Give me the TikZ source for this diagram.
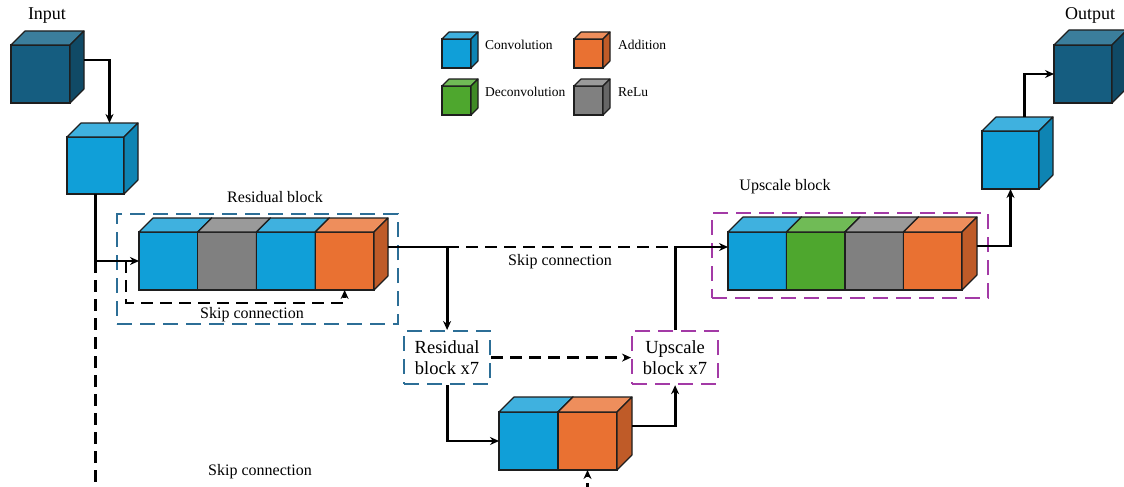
\documentclass[tikz,border=0pt]{standalone}
\usepackage{fontspec}
\setmainfont{Liberation Serif}
\usetikzlibrary{arrows.meta,calc}
\definecolor{convF}{HTML}{109FD8}
\definecolor{convT}{HTML}{3FB1DF}
\definecolor{convS}{HTML}{0E84B3}
\definecolor{inF}{HTML}{155D80}
\definecolor{inT}{HTML}{3B7E9C}
\definecolor{inS}{HTML}{104A66}
\definecolor{addF}{HTML}{E97132}
\definecolor{addT}{HTML}{EE8E5C}
\definecolor{addS}{HTML}{BF5B28}
\definecolor{reluF}{HTML}{808080}
\definecolor{reluT}{HTML}{9A9A9A}
\definecolor{reluS}{HTML}{666666}
\definecolor{decF}{HTML}{4EA72E}
\definecolor{decT}{HTML}{70BB56}
\definecolor{decS}{HTML}{3F8A25}
\definecolor{resC}{HTML}{2C6E96}
\definecolor{upC}{HTML}{A33AA6}
\definecolor{edgeC}{HTML}{1E1E1E}
\tikzset{
  cubeface/.style={draw=edgeC, line width=1.1pt, inner sep=0pt, outer sep=0pt, anchor=north west},
  cubeedge/.style={draw=edgeC, line width=1.1pt, line join=round},
  conn/.style={draw=black, line width=2.8pt},
  arr/.style={-{Stealth[length=9pt,width=8pt]}},
  dsh/.style={dash pattern=on 12pt off 7pt},
  lbl/.style={font=\fontsize{16pt}{19pt}\selectfont, inner sep=0pt},
  big/.style={font=\fontsize{18pt}{21pt}\selectfont, inner sep=0pt},
  leg/.style={font=\fontsize{13.5pt}{16pt}\selectfont, inner sep=0pt, anchor=west},
  rbox/.style={draw=resC, line width=2.2pt, dash pattern=on 15pt off 8pt, inner sep=0pt, anchor=north west},
  ubox/.style={draw=upC, line width=2.2pt, dash pattern=on 15pt off 8pt, inner sep=0pt, anchor=north west},
  blk/.style={font=\fontsize{18.5pt}{21pt}\selectfont, align=center}
}
\newcommand\mycube[7]{%
  \node[cubeface, fill=#7F, minimum width=#4pt, minimum height=#5pt] (#1) at (#2,#3) {};
  \filldraw[cubeedge, fill=#7T] (#1.north west) -- ++(#6,-#6) -- ++(#4,0) -- (#1.north east) -- cycle;
  \filldraw[cubeedge, fill=#7S] (#1.north east) -- ++(#6,-#6) -- ++(0,#5) -- (#1.south east) -- cycle;
}
\begin{document}
\begin{tikzpicture}[x=1pt, y=-1pt]
\useasboundingbox (0,0) rectangle (1124,487);
\clip (0,0) rectangle (1124,487);
\fill[white] (0,0) rectangle (1124,487);
\coordinate (bot) at (0,495);

% labels
\node[big] (tin) at (47,16) {Input};
\node[big] (tout) at (1090,15) {Output};
\node[lbl] (tres) at (275,197) {Residual block};
\node[lbl] (tup) at (785,187) {Upscale block};
\node[lbl] (sk1) at (560,262) {Skip connection};
\node[lbl] (sk2) at (252,315) {Skip connection};
\node[lbl] (sk3) at (260,472) {Skip connection};

% legend
\mycube{lconv}{442}{39}{29}{29}{7}{conv}
\mycube{ladd}{574}{39}{29}{29}{7}{add}
\mycube{ldec}{442}{86}{29}{29}{7}{dec}
\mycube{lrelu}{574}{86}{29}{29}{7}{relu}
\node[leg] (tconv) at (485,45) {Convolution};
\node[leg] (tadd) at (618,45) {Addition};
\node[leg] (tdec) at (485,92) {Deconvolution};
\node[leg] (trelu) at (618,92) {ReLu};

% dashed boxes
\node[rbox, minimum width=281pt, minimum height=110pt] (resbox) at (116,213) {};
\node[ubox, minimum width=276pt, minimum height=85pt] (upbox) at (711,212) {};
\node[rbox, blk, minimum width=86pt, minimum height=53pt] (rx7) at (403,330) {Residual\\block x7};
\node[ubox, blk, minimum width=86pt, minimum height=53pt] (ux7) at (631,330) {Upscale\\block x7};

% cubes
\mycube{in}{11}{45}{59}{58}{14}{in}
\mycube{c1}{67}{137}{57}{57}{14}{conv}
\mycube{r1}{139}{232}{58.75}{58}{14}{conv}
\mycube{r2}{197.75}{232}{58.75}{58}{14}{relu}
\mycube{r3}{256.5}{232}{58.75}{58}{14}{conv}
\mycube{r4}{315.25}{232}{58.75}{58}{14}{add}
\mycube{u1}{728}{232}{58.5}{58}{15}{conv}
\mycube{u2}{786.5}{232}{58.5}{58}{15}{dec}
\mycube{u3}{845}{232}{58.5}{58}{15}{relu}
\mycube{u4}{903.5}{232}{58.5}{58}{15}{add}
\mycube{b1}{499}{412}{59}{58}{15}{conv}
\mycube{b2}{558}{412}{59}{58}{15}{add}
\mycube{c2}{982}{131}{57}{58}{14}{conv}
\mycube{out}{1054}{45}{58}{58}{15}{in}

% connectors
\coordinate (inb) at ($(in.east)+(14,-14)$);
\coordinate (r4b) at ($(r4.east)+(14,-14)$);
\coordinate (b2b) at ($(b2.east)+(15,-15)$);
\coordinate (u4b) at ($(u4.east)+(15,-15)$);
\draw[conn,arr] (inb) -| ($(c1.north)+(14,-14)$);
\draw[conn,arr] (c1.south) |- (r1.west);
\draw[conn,dsh] (c1.south |- r1.west) -- (c1.south |- bot);
\draw[conn,dsh,arr] ($(r1.west)+(-13,0)$) |- ($(r4.south)+(0,13)$) -- (r4.south);
\draw[conn,arr] (r4b) -| (rx7.north);
\draw[conn,dsh] (rx7.north |- r4b) -- (ux7.north |- r4b);
\draw[conn,arr] (ux7.north) |- ($(u1.west)+(0,-14)$);
\draw[conn,arr] (rx7.south) |- (b1.west);
\draw[conn,arr] (b2b) -| (ux7.south);
\draw[conn,dsh,arr] (rx7.east) -- (ux7.west);
\draw[conn,dsh,arr] (b2.south |- bot) -- (b2.south);
\draw[conn,arr] (u4b) -| (c2.south);
\draw[conn,arr] ($(c2.north)+(14,-14)$) |- (out.west);
\end{tikzpicture}
\end{document}
